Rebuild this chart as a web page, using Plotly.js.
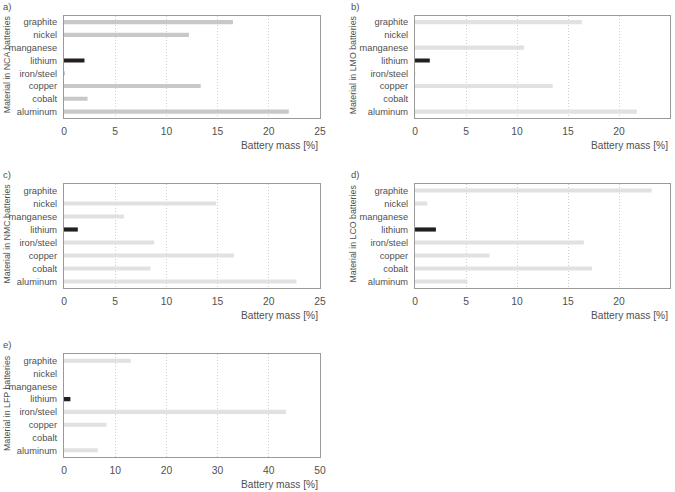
<!DOCTYPE html>
<html><head><meta charset="utf-8">
<script src="https://cdn.plot.ly/plotly-3.0.1.min.js"></script>
<style>body{margin:0;padding:0;background:#fff}#chart{width:675px;height:492px}</style>
</head><body><div id="chart"></div>
<script>
const materials = ['graphite','nickel','manganese','lithium','iron/steel','copper','cobalt','aluminum'];
const chemistries = ['NCA','LMO','NMC','LCO','LFP'];
const panelLetters = ['a)','b)','c)','d)','e)'];
const ncaValues = [16.5, 12.2, 0, 2.0, 0.1, 13.35, 2.3, 21.95];
const lmoValues = [16.35, 0, 10.7, 1.45, 0.05, 13.5, 0, 21.75];
const nmcValues = [0, 14.85, 5.85, 1.35, 8.8, 16.6, 8.45, 22.7];
const lcoValues = [23.2, 1.2, 0, 2.05, 16.55, 7.3, 17.35, 5.15];
const lfpValues = [13.05, 0, 0, 1.25, 43.35, 8.3, 0, 6.6];
const xTickVals25 = [0,5,10,15,20,25];
const xTickVals50 = [0,10,20,30,40,50];
const xMax = [25,25,25,25,50];
const allValues = [ncaValues, lmoValues, nmcValues, lcoValues, lfpValues];

// pick the narrowest available font face
const candidates = [
  {fam:"'Liberation Sans Narrow'", stretch:'normal'},
  {fam:"'Liberation Sans'", stretch:'condensed'},
  {fam:"'DejaVu Sans Condensed'", stretch:'normal'},
  {fam:"'DejaVu Sans'", stretch:'condensed'},
  {fam:"'Liberation Sans'", stretch:'normal'}
];
function measure(c){
  const s = document.createElement('span');
  s.style.cssText = 'position:absolute;visibility:hidden;white-space:nowrap;font-size:20px;font-family:'+c.fam+',monospace;font-stretch:'+c.stretch;
  s.textContent = 'manganese graphite';
  document.body.appendChild(s);
  const w = s.getBoundingClientRect().width; s.remove(); return w;
}
let best = candidates[candidates.length-1], bestW = Infinity;
candidates.forEach(c=>{const w = measure(c); if (w < bestW){bestW = w; best = c;}});
const font = best.fam + ", sans-serif";
const st = document.createElement('style');
st.textContent = '#chart text{font-stretch:'+best.stretch+' !important;}';
document.head.appendChild(st);

const tickSize = 9.3, xTickSize = 10.3, xTitleSize = 10.2, yTitleSize = 8.8, letterSize = 9.5;
const txt = '#505050';
const W = 675, H = 492;
const panels = [
  {x0:64, x1:320, y0:15.7, y1:118},
  {x0:415, x1:670, y0:15.7, y1:118},
  {x0:64, x1:320, y0:184, y1:288},
  {x0:415, x1:670, y0:184, y1:288},
  {x0:64, x1:320, y0:354.3, y1:456.7}
];
const barColors = ['#c8c8c8','#e1e1e1','#e1e1e1','#e1e1e1','#e1e1e1'];

const data = [];
const layout = {
  width: W, height: H, margin:{l:0,r:0,t:0,b:0},
  paper_bgcolor:'#fff', plot_bgcolor:'#fff', showlegend:false,
  font:{family:font, color:txt, size:tickSize},
  annotations:[], bargap:0.68
};
panels.forEach((p,i)=>{
  const s = i===0 ? '' : String(i+1);
  const colors = materials.map(m => m==='lithium' ? '#231f20' : barColors[i]);
  data.push({type:'bar', orientation:'h', x: allValues[i], y: materials,
    xaxis:'x'+s, yaxis:'y'+s, marker:{color:colors, line:{width:0}}, hoverinfo:'x+y'});
  const tv = xMax[i]===50 ? xTickVals50 : xTickVals25;
  layout['xaxis'+s] = {domain:[p.x0/W, p.x1/W], anchor:'y'+s, range:[0,xMax[i]],
    tickmode:'array', tickvals:tv, ticktext:tv.map(String), showgrid:true, gridcolor:'#cfcfcf', griddash:'1px,2px', gridwidth:1,
    zeroline:false, showline:true, linecolor:'#9a9a9a', linewidth:1, mirror:true, ticks:'',
    ticklabelstandoff:4, tickfont:{family:font, size:xTickSize, color:txt}, fixedrange:true};
  layout['yaxis'+s] = {domain:[1-p.y1/H, 1-p.y0/H], anchor:'x'+s, type:'category',
    categoryorder:'array', categoryarray:materials.slice().reverse(), range:[-0.5,7.5],
    tickmode:'array', tickvals:materials, ticktext:materials,
    showgrid:false, zeroline:false, showline:true, linecolor:'#9a9a9a', linewidth:1, mirror:true, ticks:'',
    ticklabelstandoff:4, tickfont:{family:font, size:tickSize, color:txt}, fixedrange:true};
  layout.annotations.push({xref:'paper', yref:'paper', x:p.x1/W, y:1-(p.y1+27.5)/H,
    xanchor:'right', yanchor:'middle', text:'Battery mass [%]', showarrow:false,
    font:{family:font, size:xTitleSize, color:txt}});
  const yx = (i%2===0) ? 6.5 : 352.5;
  layout.annotations.push({xref:'paper', yref:'paper', x:yx/W, y:1-((p.y0+p.y1)/2 - 2)/H,
    xanchor:'center', yanchor:'middle', textangle:-90, text:'Material in '+chemistries[i]+' batteries',
    showarrow:false, font:{family:font, size:yTitleSize, color:txt}});
  const lx = (i%2===0) ? 1 : 349;
  layout.annotations.push({xref:'paper', yref:'paper', x:lx/W, y:1-(p.y0-9.5)/H,
    xanchor:'left', yanchor:'middle', text:panelLetters[i], showarrow:false,
    font:{family:font, size:letterSize, color:txt}});
});
Plotly.newPlot('chart', data, layout, {displayModeBar:false, staticPlot:true});
</script></body></html>
